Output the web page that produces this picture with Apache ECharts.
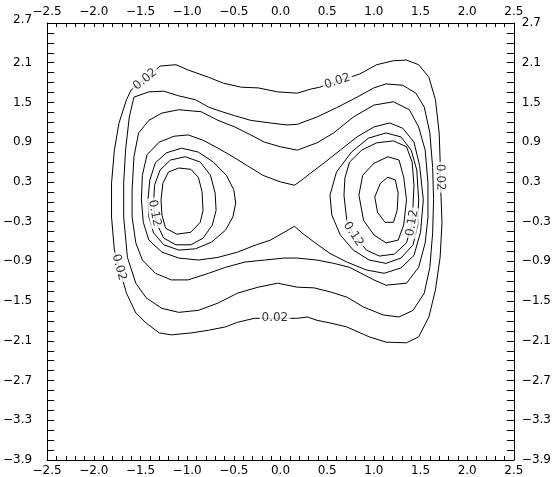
<!DOCTYPE html>
<html><head><meta charset="utf-8">
<script src="https://cdn.jsdelivr.net/npm/echarts@6/dist/echarts.min.js"></script>
<style>html,body{margin:0;padding:0;background:#fff}#c{width:554px;height:477px}</style>
</head><body><div id="c"></div>
<script>
// ---- tick labels ----
const xTickLabels = [-2.5, -2.0, -1.5, -1.0, -0.5, 0.0, 0.5, 1.0, 1.5, 2.0, 2.5];
const yTickLabels = [2.7, 2.1, 1.5, 0.9, 0.3, -0.3, -0.9, -1.5, -2.1, -2.7, -3.3, -3.9];

// ---- contour paths (data coordinates, closed loops) ----
const c02 = [[-1.45,1.85],[-1.29,2.05],[-1.12,2.07],[-0.99,1.99],[-0.77,1.88],[-0.61,1.79],[-0.42,1.73],[-0.24,1.72],[-0.03,1.66],[0.18,1.64],[0.32,1.70],[0.42,1.73],[0.61,1.82],[0.85,1.93],[1.03,2.07],[1.21,2.13],[1.35,2.14],[1.48,2.07],[1.59,1.88],[1.66,1.54],[1.70,1.04],[1.71,0.63],[1.71,0.37],[1.72,0.07],[1.73,-0.32],[1.71,-0.84],[1.66,-1.33],[1.59,-1.74],[1.48,-2.04],[1.35,-2.13],[1.13,-2.12],[0.95,-2.04],[0.71,-1.89],[0.53,-1.83],[0.39,-1.79],[0.29,-1.74],[0.18,-1.76],[-0.06,-1.76],[-0.28,-1.76],[-0.46,-1.82],[-0.59,-1.89],[-0.77,-1.94],[-0.95,-1.98],[-1.17,-2.01],[-1.30,-1.98],[-1.44,-1.83],[-1.55,-1.68],[-1.65,-1.38],[-1.73,-0.99],[-1.78,-0.73],[-1.81,-0.23],[-1.81,0.28],[-1.78,0.78],[-1.73,1.19],[-1.65,1.54],[-1.60,1.69]];
const c04 = [[-1.62,1.28],[-1.57,1.58],[-1.41,1.66],[-1.25,1.67],[-1.09,1.60],[-0.91,1.54],[-0.77,1.43],[-0.65,1.37],[-0.49,1.30],[-0.32,1.23],[-0.11,1.19],[0.07,1.16],[0.18,1.17],[0.39,1.28],[0.60,1.42],[0.82,1.58],[1.00,1.72],[1.13,1.78],[1.31,1.76],[1.45,1.64],[1.54,1.43],[1.60,1.04],[1.63,0.52],[1.64,0.03],[1.63,-0.47],[1.60,-0.99],[1.54,-1.38],[1.42,-1.64],[1.27,-1.74],[1.10,-1.71],[0.89,-1.59],[0.71,-1.44],[0.53,-1.36],[0.36,-1.30],[0.18,-1.29],[-0.03,-1.23],[-0.24,-1.29],[-0.46,-1.38],[-0.67,-1.53],[-0.88,-1.64],[-1.09,-1.67],[-1.27,-1.61],[-1.44,-1.45],[-1.55,-1.23],[-1.64,-0.84],[-1.68,-0.23],[-1.68,0.28],[-1.66,0.78]];
const c06 = [[-1.59,0.18],[-1.57,0.68],[-1.52,1.04],[-1.41,1.23],[-1.27,1.34],[-1.09,1.39],[-0.85,1.36],[-0.67,1.23],[-0.49,1.13],[-0.32,1.01],[-0.17,0.90],[0.00,0.83],[0.18,0.78],[0.39,0.89],[0.57,1.04],[0.78,1.28],[1.00,1.46],[1.21,1.51],[1.38,1.39],[1.48,1.13],[1.55,0.78],[1.58,0.28],[1.58,-0.23],[1.55,-0.62],[1.48,-0.99],[1.35,-1.23],[1.13,-1.26],[1.00,-1.18],[0.74,-0.99],[0.57,-0.93],[0.39,-0.88],[0.18,-0.85],[0.04,-0.85],[-0.17,-0.88],[-0.38,-0.91],[-0.59,-0.99],[-0.77,-1.08],[-0.99,-1.18],[-1.17,-1.18],[-1.34,-1.08],[-1.48,-0.88],[-1.55,-0.62],[-1.59,-0.23]];
const c08 = [[-1.49,0.03],[-1.48,0.40],[-1.43,0.71],[-1.30,0.90],[-1.14,0.99],[-0.99,1.01],[-0.83,0.93],[-0.67,0.81],[-0.51,0.68],[-0.35,0.54],[-0.19,0.40],[0.00,0.30],[0.15,0.25],[0.23,0.33],[0.32,0.43],[0.47,0.59],[0.64,0.78],[0.82,0.98],[1.00,1.13],[1.17,1.19],[1.31,1.11],[1.43,0.90],[1.49,0.55],[1.53,0.03],[1.50,-0.46],[1.43,-0.81],[1.29,-1.00],[1.11,-1.08],[0.92,-1.03],[0.71,-0.91],[0.53,-0.78],[0.37,-0.62],[0.23,-0.47],[0.15,-0.37],[0.04,-0.46],[-0.11,-0.58],[-0.26,-0.65],[-0.46,-0.76],[-0.67,-0.84],[-0.88,-0.88],[-1.09,-0.85],[-1.27,-0.76],[-1.41,-0.58],[-1.47,-0.31]];
const c10L = [[-1.42,0.03],[-1.40,0.33],[-1.34,0.59],[-1.22,0.74],[-1.06,0.81],[-0.88,0.75],[-0.72,0.60],[-0.58,0.40],[-0.50,0.18],[-0.48,-0.02],[-0.51,-0.23],[-0.59,-0.43],[-0.74,-0.61],[-0.91,-0.71],[-1.09,-0.73],[-1.25,-0.65],[-1.36,-0.47],[-1.41,-0.23]];
const c12L = [[-1.36,-0.05],[-1.35,0.25],[-1.29,0.48],[-1.18,0.63],[-1.02,0.68],[-0.86,0.60],[-0.75,0.40],[-0.70,0.13],[-0.69,-0.13],[-0.73,-0.35],[-0.83,-0.55],[-0.96,-0.65],[-1.12,-0.65],[-1.25,-0.55],[-1.32,-0.35],[-1.35,-0.17]];
const c14L = [[-1.28,0.03],[-1.26,0.28],[-1.20,0.45],[-1.09,0.51],[-0.96,0.49],[-0.88,0.37],[-0.84,0.15],[-0.83,-0.13],[-0.86,-0.31],[-0.96,-0.46],[-1.11,-0.49],[-1.23,-0.40],[-1.27,-0.20]];
const c10R = [[0.53,0.10],[0.60,0.45],[0.76,0.75],[0.94,0.96],[1.13,1.04],[1.29,0.98],[1.40,0.78],[1.46,0.48],[1.48,0.03],[1.47,-0.35],[1.42,-0.65],[1.29,-0.85],[1.13,-0.93],[0.95,-0.88],[0.78,-0.73],[0.64,-0.50],[0.55,-0.20]];
const c12R = [[0.68,0.10],[0.69,0.36],[0.74,0.60],[0.87,0.78],[1.03,0.89],[1.21,0.92],[1.35,0.83],[1.41,0.60],[1.43,0.25],[1.42,-0.05],[1.41,-0.32],[1.35,-0.62],[1.22,-0.79],[1.06,-0.82],[0.92,-0.73],[0.78,-0.49],[0.71,-0.28]];
const c14R = [[0.84,0.10],[0.88,0.40],[1.00,0.58],[1.15,0.68],[1.27,0.63],[1.32,0.37],[1.35,0.03],[1.32,-0.35],[1.26,-0.58],[1.13,-0.62],[1.00,-0.50],[0.89,-0.28]];
const c16R = [[1.01,0.07],[1.07,0.28],[1.15,0.37],[1.23,0.33],[1.26,0.13],[1.25,-0.13],[1.21,-0.31],[1.12,-0.31],[1.04,-0.16]];

// contour level of each path
const pathLevels = {c02:0.02, c04:0.04, c06:0.06, c08:0.08, c10L:0.10, c12L:0.12, c14L:0.14, c10R:0.10, c12R:0.12, c14R:0.14, c16R:0.16};
const paths = {c02, c04, c06, c08, c10L, c12L, c14L, c10R, c12R, c14R, c16R};
// labelled vertices: [path name, vertex index]
const labelSpots = [['c02',0],['c02',12],['c02',22],['c02',37],['c02',48],['c12L',15],['c12R',10],['c12R',15]];

const FONT = '"DejaVu Sans", sans-serif';
const FS = 12;
const fmt = v => v.toFixed(1).replace('-', '\u2212');
function tickFormatter(list, richTop) {
  return function (v) {
    for (const t of list) {
      if (Math.abs(t - v) < 1e-6) {
        const s = fmt(t);
        if (richTop != null && Math.abs(t - richTop) < 1e-6) return '{t|' + s + '}';
        return s;
      }
    }
    return '';
  };
}

const chart = echarts.init(document.getElementById('c'), null, {renderer: 'canvas'});

function xAxisCfg(pos, margin) {
  return {
    type: 'value', position: pos, min: -2.5, max: 2.5, interval: 0.1,
    axisLine: {show: true, onZero: false, lineStyle: {color: '#000', width: 1}},
    axisTick: {show: true, inside: true, length: 4, lineStyle: {color: '#000', width: 1}},
    axisLabel: {show: true, margin: margin, color: '#000', fontFamily: FONT, fontSize: FS,
      formatter: tickFormatter(xTickLabels)},
    splitLine: {show: false}
  };
}
function yAxisCfg(pos, margin, richTop) {
  return {
    type: 'value', position: pos, min: -3.9, max: 2.7, interval: 0.15,
    axisLine: {show: true, onZero: false, lineStyle: {color: '#000', width: 1}},
    axisTick: {show: true, inside: true, length: 7, lineStyle: {color: '#000', width: 1}},
    axisLabel: {show: true, margin: margin, color: '#000', fontFamily: FONT, fontSize: FS,
      formatter: tickFormatter(yTickLabels, richTop),
      rich: {t: {color: '#000', fontFamily: FONT, fontSize: FS, padding: [0, 0, 6, 0]}}},
    splitLine: {show: false}
  };
}

function closed(p) { return p.concat([p[0]]); }

const lineSeries = Object.keys(paths).map(name => ({
  name: name + ' ' + pathLevels[name].toFixed(2),
  type: 'line', xAxisIndex: 0, yAxisIndex: 0,
  data: closed(paths[name]),
  showSymbol: false, symbol: 'none', smooth: false,
  lineStyle: {color: '#000', width: 1},
  silent: true, z: 2, animation: false
}));

function labelData(rotations) {
  return labelSpots.map((s, i) => {
    const p = paths[s[0]][s[1]];
    return {value: [p[0], p[1]], text: pathLevels[s[0]].toFixed(2),
      label: {rotate: rotations ? rotations[i] : 0}};
  });
}
function labelSeries(rotations) {
  return {
    type: 'scatter', xAxisIndex: 0, yAxisIndex: 0, symbolSize: 0, z: 5, silent: true, animation: false,
    data: labelData(rotations),
    label: {show: true, position: 'inside', color: '#000', fontFamily: FONT, fontSize: FS,
      backgroundColor: '#fff', padding: [0, 2],
      formatter: p => p.data.text}
  };
}

const option = {
  animation: false,
  backgroundColor: '#fff',
  grid: {left: 47, right: 34, top: 23, bottom: 17, containLabel: false},
  xAxis: [xAxisCfg('bottom', 5), xAxisCfg('top', 5)],
  yAxis: [yAxisCfg('left', 15, 2.7), yAxisCfg('right', 8, null)],
  series: lineSeries.concat([labelSeries(null)])
};
chart.setOption(option);

// label rotation follows the local direction of the contour
const rotations = labelSpots.map(s => {
  const p = paths[s[0]], n = p.length, i = s[1];
  const a = chart.convertToPixel({xAxisIndex: 0, yAxisIndex: 0}, p[(i - 1 + n) % n]);
  const b = chart.convertToPixel({xAxisIndex: 0, yAxisIndex: 0}, p[(i + 1) % n]);
  let ang = Math.atan2(-(b[1] - a[1]), b[0] - a[0]) * 180 / Math.PI;
  if (ang > 90) ang -= 180;
  if (ang <= -90) ang += 180;
  return ang;
});
option.series = lineSeries.concat([labelSeries(rotations)]);
chart.setOption(option, true);
</script></body></html>
